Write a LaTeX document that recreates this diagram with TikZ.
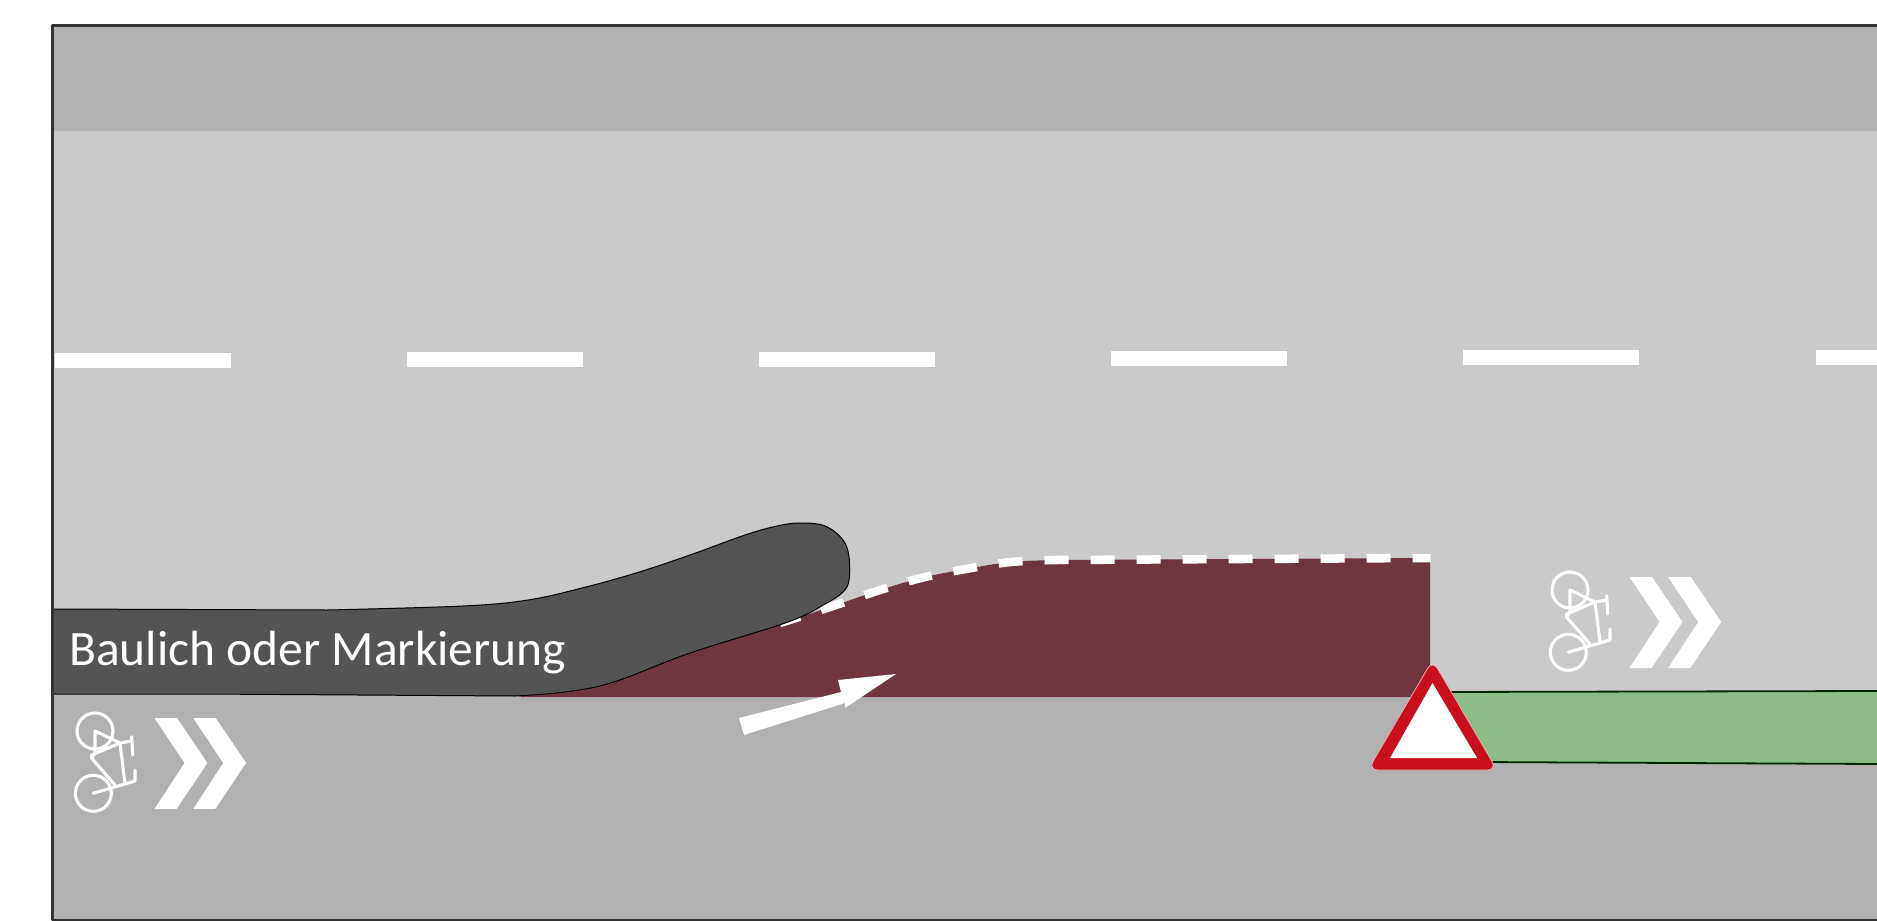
\documentclass[tikz,border=0pt]{standalone}
\usepackage{fontspec}
\setmainfont{Carlito}
\usepackage{tikz}
\usetikzlibrary{positioning}

\begin{document}
\begin{tikzpicture}[x=1pt,y=-1pt,line join=round]
\definecolor{roadc}{HTML}{B1B1B1}\definecolor{lanec}{HTML}{CACACA}
\definecolor{kerbc}{HTML}{545454}\definecolor{marooc}{HTML}{6F3640}
\definecolor{greenc}{HTML}{8CBC88}\definecolor{signc}{HTML}{C80F1C}
\tikzset{
  bikeline/.style={draw=white,line width=3.1pt,line cap=round},
  bikemark/.pic={
    % wheels and frame of the lying bicycle, then the two chevrons
    \draw[bikeline] (95,731) circle (18) (93.3,793.3) circle (18);
    \draw[bikeline] (95,731) -- (120,743) -- (91.7,755) -- (91.7,758.3) -- (115,785)
      (95,731) -- (95,753) -- (91.7,758.3) (120,743) -- (131.7,741)
      (131.7,736.7) -- (132.7,755) (120,743) -- (125,783.3)
      (93.3,793.3) -- (135,781) -- (135,770);
    \foreach \dx in {0,38.7}{
      \fill[white,shift={(\dx,0)}] (154.5,718) -- (177,718) -- (207.5,763) -- (176.5,809)
        -- (154.5,809) -- (184.5,763) -- cycle;}
  }
}
\useasboundingbox (0,0) rectangle (1877,921);
% road surfaces
\fill[lanec] (52,25) rectangle (1877,920);
\fill[roadc] (52,25) rectangle (1877,131);
\fill[roadc] (52,695) rectangle (1877,920);
% centre line, rising slightly to the right
\foreach \i/\xa/\ya in {0/55/360,1/407/359.5,2/759/359,3/1111/358.5,4/1463/357.5}{
  \fill[white] (\xa,\ya-7.5) rectangle ++(176,15);}
\fill[white] (1816,350) rectangle (1877,365);
% green lane
\fill[greenc] (1440,692) -- (1877,691) -- (1877,764) -- (1440,762) -- cycle;
\draw[black!85!green,line width=1.8pt] (1440,692) -- (1877,691) (1480,762) -- (1877,764);
% maroon ramp with its broken edge, the low end runs under the kerb
\fill[marooc] (1430,558) -- (1056,560) -- plot[smooth,tension=.6] coordinates {(1056,560) (1011,562)
  (966,569) (921,578) (877,591) (833,606) (780,623) (740,630) (690,640) (620,660) (540,680)}
  -- (520,697) -- (1430,697) -- cycle;
\draw[white,line width=8.5pt,dash pattern=on 24pt off 22pt,dash phase=6pt] (1430.5,558) -- (1056,560)
  -- plot[smooth,tension=.6] coordinates {(1056,560) (1011,562) (966,569) (921,578) (877,591)
  (833,606) (780,623)};
% kerb
\draw[fill=kerbc,draw=black,line width=1pt] (52,609) -- (327,610)
  -- plot[smooth,tension=.6] coordinates {(327,610) (463,606) (528,600) (582,588) (636,573)
  (690,555) (745,535) (777,526) (800,523) (825,526) (843,540) (849,557) (849,580) (843,592)
  (825,604) (788,622) (690,653) (614,682) (565,692) (515,696)}
  -- (203,694) -- (52,694) -- cycle;
\node[anchor=base west,text=white,font=\fontsize{49.5}{49.5}\selectfont,inner sep=0pt] (kerblabel)
  at (69,665) {Baulich oder Markierung};
% arrow out of the lane
\fill[white] (739,718) -- (841,692) -- (838,680) -- (896,674) -- (845,708) -- (845,703)
  -- (744,735) -- cycle;
% bicycle symbols
\pic at (0,0) {bikemark};
\pic at (1475,-141) {bikemark};
% give way sign
\draw[fill=signc,draw=signc!35!white,line width=.8pt,rounded corners=10pt]
  (1432.5,660) -- (1497,770) -- (1368,770) -- cycle;
\fill[white] (1432.5,683) -- (1477,758) -- (1390,758) -- cycle;
% frame
\draw[black!80,line width=2.5pt] (1877,25.5) -- (52.5,25.5) -- (52.5,920) -- (1877,920);
\end{tikzpicture}
\end{document}
